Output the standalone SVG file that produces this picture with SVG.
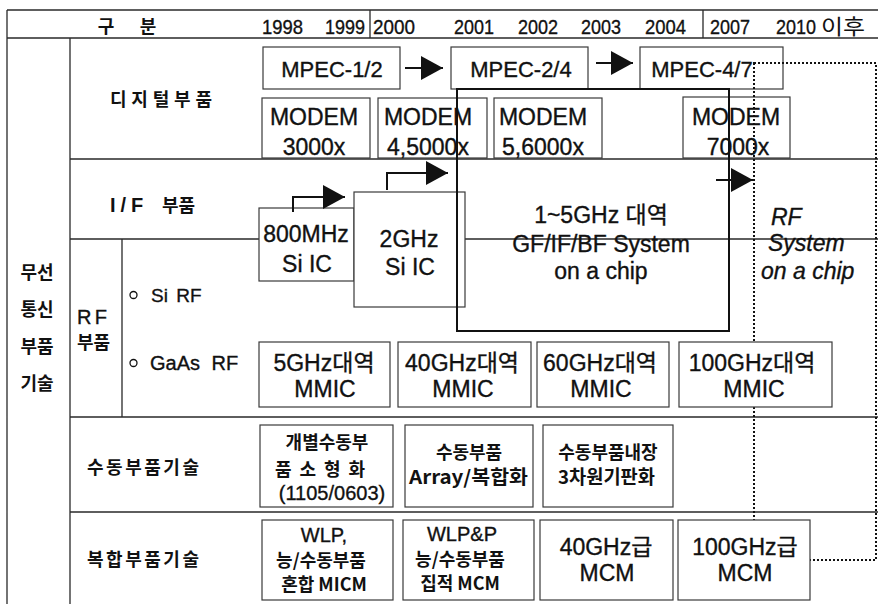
<svg xmlns="http://www.w3.org/2000/svg" width="878" height="604" viewBox="0 0 878 604">
<defs>
<style>
.grid{stroke:#2a2a2a;stroke-width:1.3;fill:none}
.box{stroke:#3a3a3a;stroke-width:1.2;fill:#fff}
.big{stroke:#111;stroke-width:2;fill:none}
.dot{stroke:#111;stroke-width:2;fill:none;stroke-dasharray:2 2}
.arr{stroke:#111;stroke-width:2;fill:none}
text{font-family:'Liberation Sans','Noto Sans CJK KR',sans-serif;fill:#111;stroke:#111;stroke-width:0.35}
.ko{font-family:'Noto Sans CJK KR','Liberation Sans',sans-serif;font-weight:700;font-size:18px;stroke-width:0}
.yr{font-size:21px}
.b22{font-size:22px;text-anchor:middle}
.b23{font-size:23px;text-anchor:middle}
.m20{font-size:20px;text-anchor:middle}
.kc{font-family:'Noto Sans CJK KR','Liberation Sans',sans-serif;font-weight:700;font-size:18px;text-anchor:middle;stroke-width:0}
.it{font-size:23px;font-style:italic}
</style>
<marker id="ah" markerUnits="userSpaceOnUse" markerWidth="22" markerHeight="24" refX="22" refY="12" orient="auto">
<path d="M0,0 L22,12 L0,24 z" fill="#111"/>
</marker>
</defs>
<rect width="878" height="604" fill="#fff"/>

<g id="table">
<path class="grid" d="M7,10 H878 M7,38 H878 M7,10 V604 M70,38 V604 M70,159 H878 M70,239 H878 M70,417 H878 M70,512 H878 M122,239 V417 M370,10 V38 M703,10 V38"/>
</g>

<g id="header">
<text class="ko" x="106" y="33" text-anchor="middle">구</text>
<text class="ko" x="148" y="33" text-anchor="middle">분</text>
<text class="yr" x="262" y="34" textLength="41" lengthAdjust="spacingAndGlyphs">1998</text>
<text class="yr" x="325" y="34" textLength="40" lengthAdjust="spacingAndGlyphs">1999</text>
<text class="yr" x="373" y="34" textLength="42" lengthAdjust="spacingAndGlyphs">2000</text>
<text class="yr" x="454" y="34" textLength="40" lengthAdjust="spacingAndGlyphs">2001</text>
<text class="yr" x="518" y="34" textLength="40" lengthAdjust="spacingAndGlyphs">2002</text>
<text class="yr" x="581" y="34" textLength="40" lengthAdjust="spacingAndGlyphs">2003</text>
<text class="yr" x="645" y="34" textLength="41" lengthAdjust="spacingAndGlyphs">2004</text>
<text class="yr" x="710" y="34" textLength="40" lengthAdjust="spacingAndGlyphs">2007</text>
<text class="yr" x="776" y="34" textLength="40" lengthAdjust="spacingAndGlyphs">2010</text>
<text x="821" y="34" style="font-family:'Noto Sans CJK KR',sans-serif;font-size:21px;stroke-width:0" textLength="44" lengthAdjust="spacingAndGlyphs">이후</text>
</g>

<g id="labels">
<text class="kc" x="37" y="279">무선</text>
<text class="kc" x="37" y="316">통신</text>
<text class="kc" x="37" y="353">부품</text>
<text class="kc" x="37" y="390">기술</text>
<text x="77" y="324" style="font-size:20px" textLength="30" lengthAdjust="spacing">R F</text>
<text class="ko" x="77" y="349">부품</text>
<text class="ko" x="110" y="106" textLength="102" lengthAdjust="spacing">디지털부품</text>
<text class="ko" x="110" y="212"><tspan style="font-family:'Liberation Sans',sans-serif;font-weight:700;font-size:20px;letter-spacing:5px">I/F</tspan><tspan x="162">부품</tspan></text>
<text class="ko" x="87" y="474" textLength="112" lengthAdjust="spacing">수동부품기술</text>
<text class="ko" x="87" y="566" textLength="112" lengthAdjust="spacing">복합부품기술</text>
<circle cx="133.5" cy="295" r="3.5" fill="none" stroke="#111" stroke-width="1.3"/>
<text x="151" y="302" style="font-size:19px;word-spacing:3px">Si RF</text>
<circle cx="133.5" cy="363" r="3.5" fill="none" stroke="#111" stroke-width="1.3"/>
<text x="150" y="370" style="font-size:20px;word-spacing:6px">GaAs RF</text>
</g>

<g id="mpec12"><rect class="box" x="263" y="47" width="137" height="42"/><text class="b22" x="332" y="77">MPEC-1/2</text></g>
<g id="mpec24"><rect class="box" x="451" y="47" width="137" height="42"/><text class="b22" x="521" y="77">MPEC-2/4</text></g>
<g id="mpec47"><rect class="box" x="640" y="47" width="143" height="42"/><text class="b22" x="702" y="77">MPEC-4/7</text></g>

<g id="modem3000"><rect class="box" x="262" y="98" width="108" height="60"/><text class="b23" x="314" y="125">MODEM</text><text class="b23" x="314" y="155">3000x</text></g>
<g id="modem4500"><rect class="box" x="378" y="98" width="109" height="60"/><text class="b23" x="428" y="125">MODEM</text><text class="b23" x="428" y="155">4,5000x</text></g>
<g id="modem5600"><rect class="box" x="494" y="98" width="108" height="60"/><text class="b23" x="543" y="125">MODEM</text><text class="b23" x="543" y="155">5,6000x</text></g>
<g id="modem7000"><rect class="box" x="683" y="97" width="107" height="61"/><text class="b23" x="736" y="125">MODEM</text><text class="b23" x="738" y="155">7000x</text></g>

<g id="si800"><rect class="box" x="259" y="208" width="95" height="73"/><text class="b23" x="306" y="242">800MHz</text><text class="b23" x="307" y="272">Si IC</text></g>
<g id="si2g"><rect class="box" x="354" y="192" width="111" height="115"/><text class="b23" x="409" y="247">2GHz</text><text class="b23" x="410" y="275">Si IC</text></g>

<g id="soc15"><rect class="big" x="457" y="89" width="272" height="242"/>
<text class="b23" x="601" y="223">1~5GHz 대역</text>
<text class="b23" x="601" y="252">GF/IF/BF System</text>
<text class="b23" x="601" y="279">on a chip</text></g>

<g id="rfsoc"><rect class="dot" x="754" y="63" width="122" height="497"/>
<text class="it" x="771" y="225">RF</text>
<text class="it" x="768" y="251">System</text>
<text class="it" x="761" y="279">on a chip</text></g>

<g id="mmic5"><rect class="box" x="259" y="342" width="131" height="65"/><text class="b23" x="324" y="371">5GHz대역</text><text class="b23" x="325" y="397">MMIC</text></g>
<g id="mmic40"><rect class="box" x="398" y="342" width="133" height="65"/><text class="b23" x="462" y="371">40GHz대역</text><text class="b23" x="463" y="397">MMIC</text></g>
<g id="mmic60"><rect class="box" x="537" y="342" width="132" height="65"/><text class="b23" x="600" y="371">60GHz대역</text><text class="b23" x="601" y="397">MMIC</text></g>
<g id="mmic100"><rect class="box" x="679" y="342" width="153" height="65"/><text class="b23" x="752" y="371">100GHz대역</text><text class="b23" x="754" y="397">MMIC</text></g>

<g id="passive1"><rect class="box" x="260" y="425" width="133" height="82"/>
<text class="kc" x="327" y="449">개별수동부</text>
<text class="ko" x="275" y="476" textLength="90" lengthAdjust="spacing">품 소 형 화</text>
<text class="m20" x="332" y="500">(1105/0603)</text></g>
<g id="passive2"><rect class="box" x="405" y="425" width="128" height="82"/>
<text class="kc" x="469" y="459">수동부품</text>
<text class="ko" x="409" y="484" style="font-size:19px" textLength="119" lengthAdjust="spacingAndGlyphs">Array/복합화</text></g>
<g id="passive3"><rect class="box" x="543" y="425" width="130" height="82"/>
<text class="kc" x="608" y="459">수동부품내장</text>
<text class="ko" x="558" y="484" style="font-size:19px" textLength="97" lengthAdjust="spacingAndGlyphs">3차원기판화</text></g>

<g id="mcm1"><rect class="box" x="262" y="520" width="131" height="80"/>
<text class="m20" x="324" y="542">WLP,</text>
<text class="kc" x="321" y="567">능/수동부품</text>
<text class="kc" x="324" y="591">혼합 MICM</text></g>
<g id="mcm2"><rect class="box" x="403" y="520" width="131" height="80"/>
<text class="m20" x="462" y="541">WLP&amp;P</text>
<text class="kc" x="460" y="566">능/수동부품</text>
<text class="kc" x="460" y="590">집적 MCM</text></g>
<g id="mcm40"><rect class="box" x="540" y="520" width="133" height="80"/>
<text class="b23" x="606" y="555">40GHz급</text>
<text class="b23" x="607" y="581">MCM</text></g>
<g id="mcm100"><rect class="box" x="678" y="520" width="132" height="80"/>
<text class="b23" x="745" y="555">100GHz급</text>
<text class="b23" x="745" y="581">MCM</text></g>

<g id="connectors">
<path class="arr" d="M405,68 H443" marker-end="url(#ah)"/>
<path class="arr" d="M596,63 H633" marker-end="url(#ah)"/>
<path class="arr" d="M293,212 V197 H345" marker-end="url(#ah)"/>
<path class="arr" d="M387,190 V173 H448" marker-end="url(#ah)"/>
<path class="arr" d="M716,180 H753" marker-end="url(#ah)"/>
</g>
</svg>
